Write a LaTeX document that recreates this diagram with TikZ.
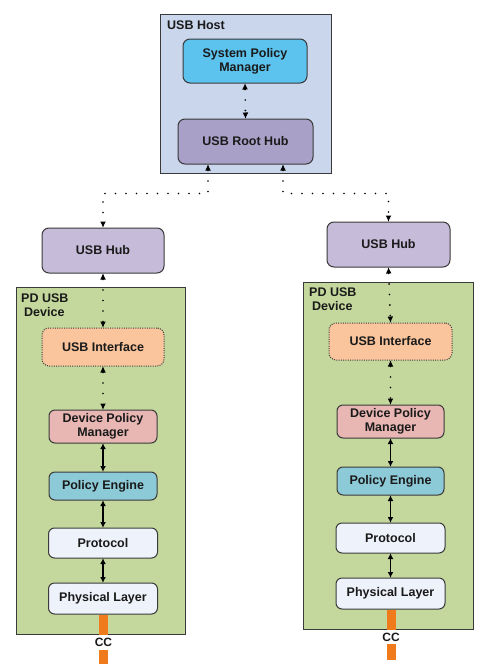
\documentclass[tikz,border=0pt]{standalone}
\usepackage{fontspec}
\setmainfont{Liberation Sans}
\usetikzlibrary{arrows.meta,calc}
\definecolor{hostc}{HTML}{C9D6EC}
\definecolor{spmc}{HTML}{5BC3EE}
\definecolor{rootc}{HTML}{A8A0C7}
\definecolor{hubc}{HTML}{C6BBD9}
\definecolor{pdc}{HTML}{C4D79C}
\definecolor{ifc}{HTML}{FAC49C}
\definecolor{dpmc}{HTML}{E8B6B3}
\definecolor{pec}{HTML}{8DCAD7}
\definecolor{protc}{HTML}{EEF2FA}
\definecolor{linec}{HTML}{3A3A3A}
\definecolor{ccc}{HTML}{F07B1C}
\definecolor{txtc}{HTML}{1A1A1A}
\tikzset{
  lbl/.style={font=\bfseries\fontsize{12.5}{14}\selectfont, text=txtc},
  box/.style={lbl, draw=linec, line width=1pt, rounded corners=6pt, align=center, inner sep=0pt},
  cont/.style={draw=linec, line width=1pt, inner sep=0pt},
  dotline/.style={line width=1.9pt, line cap=round, dash pattern=on 0pt off 10.5pt,
    {Latex[length=6pt,width=5.5pt,line width=0pt]}-{Latex[length=6pt,width=5.5pt,line width=0pt]}},
  solidarrow/.style={line width=1.3pt,
    {Latex[length=5.5pt,width=5.5pt,line width=0pt]}-{Latex[length=5.5pt,width=5.5pt,line width=0pt]}},
  ccline/.style={draw=ccc, line width=9pt},
  cclabel/.style={font=\bfseries\fontsize{12}{13}\selectfont, text=txtc, fill=white, inner xsep=2pt, inner ysep=3pt},
}
\begin{document}
\begin{tikzpicture}[x=1pt, y=-1pt]
\useasboundingbox (0,0) rectangle (487,664);

% Host
\node[cont, fill=hostc, minimum width=171pt, minimum height=159pt] (host) at (245.5,93.5) {};
\node[lbl, anchor=base west, inner sep=0pt] (hostlbl) at (167,29.5) {USB Host};
\node[box, fill=spmc, minimum width=124pt, minimum height=44pt, rounded corners=7pt] (spm) at (245,61) {System Policy\\Manager};
\node[box, fill=rootc, minimum width=135pt, minimum height=45pt, rounded corners=7pt] (root) at (245.5,141.5) {USB Root Hub};

% Left column
\node[box, fill=hubc, minimum width=122pt, minimum height=45pt, rounded corners=7pt] (hubL) at (103,250.5) {USB Hub};
\node[cont, fill=pdc, minimum width=169pt, minimum height=347pt] (pdL) at (100.5,460.5) {};
\node[lbl, anchor=north west, align=left, inner sep=0pt] (pdlblL) at (21,294) {PD USB\\\hspace*{3pt}Device};
\node[box, fill=ifc, minimum width=122pt, minimum height=38pt, rounded corners=7pt, dash pattern=on 1pt off 1.3pt] (ifL) at (103,347) {USB Interface};
\node[box, fill=dpmc, minimum width=108pt, minimum height=33pt] (dpmL) at (103,426.5) {Device Policy\\Manager};
\node[box, fill=pec, minimum width=108pt, minimum height=28pt] (peL) at (103,486) {Policy Engine};
\node[box, fill=protc, minimum width=109pt, minimum height=30pt] (protL) at (103,543) {Protocol};
\node[box, fill=protc, minimum width=109pt, minimum height=31pt] (phyL) at (103,598.5) {Physical Layer};

% Right column
\node[box, fill=hubc, minimum width=123pt, minimum height=45pt, rounded corners=7pt] (hubR) at (388.5,244.5) {USB Hub};
\node[cont, fill=pdc, minimum width=170pt, minimum height=347pt] (pdR) at (388,455.5) {};
\node[lbl, anchor=north west, align=left, inner sep=0pt] (pdlblR) at (309,288) {PD USB\\\hspace*{3pt}Device};
\node[box, fill=ifc, minimum width=123pt, minimum height=37pt, rounded corners=7pt, dash pattern=on 1pt off 1.3pt] (ifR) at (390.5,341.5) {USB Interface};
\node[box, fill=dpmc, minimum width=107pt, minimum height=33pt] (dpmR) at (390.5,421.5) {Device Policy\\Manager};
\node[box, fill=pec, minimum width=107pt, minimum height=28pt] (peR) at (390.5,481) {Policy Engine};
\node[box, fill=protc, minimum width=109pt, minimum height=30pt] (protR) at (390.5,538) {Protocol};
\node[box, fill=protc, minimum width=109pt, minimum height=31pt] (phyR) at (390.5,593.5) {Physical Layer};

% Dotted connectors
\draw[dotline] (spm.south) -- (root.north);
\draw[dotline] ([xshift=-37.5pt]root.south) -- ++(0,29) -| (hubL.north);
\draw[dotline] ([xshift=37.5pt]root.south) -- ++(0,29) -| (hubR.north);
\draw[dotline] (hubL.south) -- (ifL.north);
\draw[dotline] (ifL.south) -- (dpmL.north);
\draw[dotline] (hubR.south) -- (ifR.north);
\draw[dotline] (ifR.south) -- (dpmR.north);

% Solid connectors
\draw[solidarrow] (dpmL.south) -- (peL.north);
\draw[solidarrow] (peL.south) -- (protL.north);
\draw[solidarrow] (protL.south) -- (phyL.north);
\draw[solidarrow] (dpmR.south) -- (peR.north);
\draw[solidarrow] (peR.south) -- (protR.north);
\draw[solidarrow] (protR.south) -- (phyR.north);

% CC lines
\coordinate (ccendL) at (103.5,664);
\coordinate (ccendR) at (391,660);
\draw[ccline] ([xshift=0.5pt]phyL.south) -- (ccendL);
\draw[ccline] ([xshift=0.5pt]phyR.south) -- (ccendR);
\node[cclabel] (ccL) at (103.5,642.5) {CC};
\node[cclabel] (ccR) at (391,637) {CC};
\end{tikzpicture}
\end{document}
